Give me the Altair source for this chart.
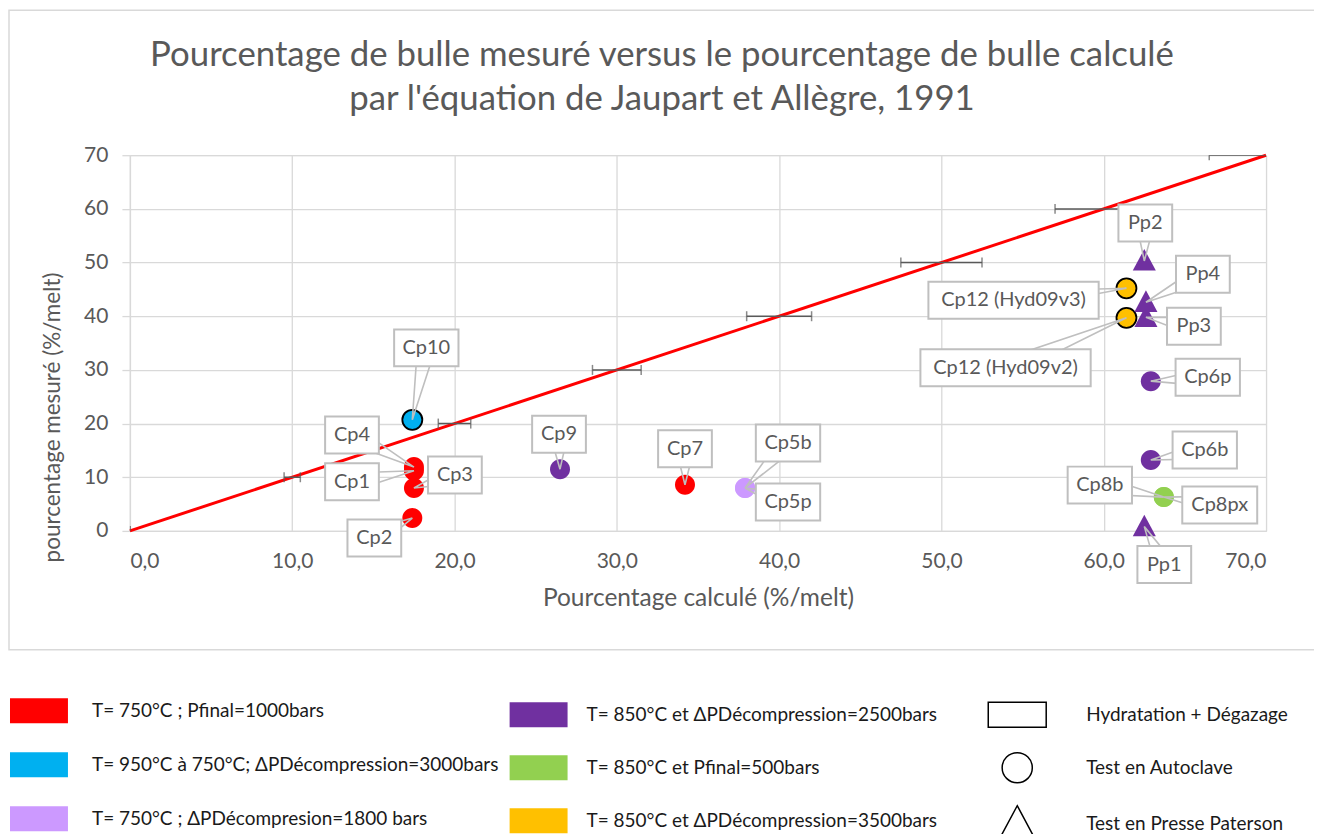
import altair as alt
import numpy as np
import pandas as pd

# ---------------- data ----------------
names = ["Cp1", "Cp2", "Cp3", "Cp4", "Cp5b", "Cp5p", "Cp6b", "Cp6p", "Cp7", "Cp8b",
         "Cp8px", "Cp9", "Cp10", "Cp12 (Hyd09v3)", "Cp12 (Hyd09v2)", "Pp1", "Pp2", "Pp3", "Pp4"]
calc = [17.5, 17.4, 17.5, 17.5, 37.9, 37.9, 62.9, 62.9, 34.2, 63.7,
        63.7, 26.5, 17.4, 61.4, 61.4, 62.5, 62.5, 62.6, 62.6]
meas = [11.2, 2.4, 8.0, 11.9, 8.0, 8.0, 13.2, 27.9, 8.6, 6.3,
        6.3, 11.5, 20.7, 45.2, 39.7, 0.8, 50.3, 39.8, 42.6]

C1 = "T= 750°C ; Pfinal=1000bars"
C2 = "T= 950°C à 750°C; ΔPDécompression=3000bars"
C3 = "T= 750°C ; ΔPDécompresion=1800 bars"
C4 = "T= 850°C et ΔPDécompression=2500bars"
C5 = "T= 850°C et Pfinal=500bars"
C6 = "T= 850°C et ΔPDécompression=3500bars"
cond = [C1, C1, C1, C1, C3, C3, C4, C4, C1, C5,
        C5, C4, C2, C6, C6, C4, C4, C4, C4]

T0 = "Hydratation + Dégazage"
T1 = "Test en Autoclave"
T2 = " Test en Presse Paterson"
test = [T1] * 15 + [T2] * 4

# 1:1 line and error bars (±5 %) along it
line_x = [0, 70]
line_y = [0, 70]
err_center = [0, 10, 20, 30, 40, 50, 60, 70]
err_half = [0, 0.5, 1.0, 1.5, 2.0, 2.5, 3.0, 3.5]

# callout label offsets (pixels, relative to the point)
lab_dx = [-62, -38, 41, -62, 43, 43, 54, 57, 0, -64, 56, -1, 14, -113, -121, 20, 1, 48, 57]
lab_dy = [11, 20, -13, -32, -45, 14, -10, -4, -36, -12, 8, -35, -72, 12, 50, 38, -38, 9, -28]

group_a = [C1, C2, C3]
group_b = [C4, C5, C6]
colors_a = ["#FF0000", "#00B0F0", "#CC99FF"]
colors_b = ["#7030A0", "#92D050", "#FFC000"]

# ---------------- layout ----------------
W, H = 1137, 376
PX, PY = W / 70.0, H / 70.0
FONT = "Lato"
GREY = "#595959"
GRID = "#d9d9d9"

RECT = "M-1,-0.43L1,-0.43L1,0.43L-1,0.43Z"
CIRC = "M0.52,0A0.52,0.52 0 1,1 -0.52,0A0.52,0.52 0 1,1 0.52,0Z"
TRI = "M0,-0.62L0.6,0.5L-0.6,0.5Z"

df = pd.DataFrame({"name": names, "x": calc, "y": meas, "cond": cond, "test": test,
                   "dx": lab_dx, "dy": lab_dy})
df["condA"] = df["cond"]
df["condB"] = df["cond"]
df["lx"] = df["x"] + df["dx"] / PX
df["ly"] = df["y"] - df["dy"] / PY
df["bw"] = df["name"].str.len() * 10.6 + 22
df["bx1"] = df["lx"] - df["bw"] / 2 / PX
df["bx2"] = df["lx"] + df["bw"] / 2 / PX
df["by1"] = df["ly"] - 18.5 / PY
df["by2"] = df["ly"] + 18.5 / PY

# wedge-shaped callout leaders: base on the box centre, tip on the point
rows = []
for _, r in df.iterrows():
    vx, vy = float(-r["dx"]), float(-r["dy"])  # pixel vector centre -> point (screen coords)
    n = np.hypot(vx, vy) or 1.0
    nx, ny = -vy / n * 9, vx / n * 9
    b1 = (r["lx"] + nx / PX, r["ly"] - ny / PY)
    b2 = (r["lx"] - nx / PX, r["ly"] + ny / PY)
    for k, (px, py) in enumerate([b1, (r["x"], r["y"]), b2]):
        rows.append({"name": r["name"], "k": k, "wx": px, "wy": py})
wedge_df = pd.DataFrame(rows)

line_df = pd.DataFrame({"x": line_x, "y": line_y})
err_df = pd.DataFrame({"c": err_center, "h": err_half})
err_df["lo"] = err_df["c"] - err_df["h"]
err_df["hi"] = err_df["c"] + err_df["h"]

xs = alt.Scale(domain=[0, 70], nice=False)
ys = alt.Scale(domain=[0, 70], nice=False)

xaxis = alt.Axis(values=list(range(0, 71, 10)),
                 labelExpr="replace(format(datum.value, '.1f'), '.', ',')",
                 title="Pourcentage calculé (%/melt)", grid=True, gridColor=GRID, gridWidth=1.3,
                 domainColor=GRID, domainWidth=1.3, ticks=False, labelPadding=20,
                 labelFontSize=21, labelColor=GREY, labelFont=FONT,
                 titleFontSize=24.5, titleColor=GREY, titleFont=FONT, titleFontWeight="normal",
                 titlePadding=15)
yaxis = alt.Axis(values=list(range(0, 71, 10)), title="pourcentage mesuré (%/melt)",
                 grid=True, gridColor=GRID, gridWidth=1.3, domainColor=GRID, domainWidth=1.3,
                 ticks=True, tickSize=8, tickColor=GRID, tickWidth=1.3, labelPadding=14,
                 labelFontSize=21, labelColor=GREY, labelFont=FONT,
                 titleFontSize=22.5, titleColor=GREY, titleFont=FONT, titleFontWeight="normal",
                 titlePadding=19, titleY=262)


def X(field):
    return alt.X(field, scale=xs, axis=xaxis)


def Y(field):
    return alt.Y(field, scale=ys, axis=yaxis)


# frame around the chart area
frame = alt.Chart(pd.DataFrame({"a": [0]})).mark_rect(
    fill="transparent", stroke=GRID, strokeWidth=1.5
).encode(x=alt.value(-121), x2=alt.value(1186), y=alt.value(-145), y2=alt.value(495))

one2one = alt.Chart(line_df).mark_line(color="#FF0000", strokeWidth=3).encode(
    x=X("x:Q"), y=Y("y:Q"))

err_rule = alt.Chart(err_df).mark_rule(color=GREY, strokeWidth=1.5, clip=True).encode(
    x=X("lo:Q"), x2="hi:Q", y=Y("c:Q"))
err_cap_lo = alt.Chart(err_df).mark_tick(color=GREY, thickness=1.5, size=10, orient="vertical",
                                         clip=True).encode(x=X("lo:Q"), y=Y("c:Q"))
err_cap_hi = alt.Chart(err_df).mark_tick(color=GREY, thickness=1.5, size=10, orient="vertical",
                                         clip=True).encode(x=X("hi:Q"), y=Y("c:Q"))

shape_enc = alt.Shape("test:N", scale=alt.Scale(domain=[T0, T1, T2], range=[RECT, CIRC, TRI]),
                      legend=alt.Legend(orient="none", legendX=858, legendY=530, title=None,
                                        symbolSize=3364, symbolFillColor="white",
                                        symbolStrokeColor="black", symbolStrokeWidth=1.5,
                                        labelFontSize=19, labelColor="#1a1a1a", labelFont=FONT,
                                        labelOffset=39, labelLimit=500, rowPadding=7))
outline = alt.FieldOneOfPredicate(field="cond", oneOf=[C2, C6])

pts_a = alt.Chart(df).transform_filter(
    alt.FieldOneOfPredicate(field="cond", oneOf=group_a)
).mark_point(filled=True, size=1480, opacity=1).encode(
    x=X("x:Q"), y=Y("y:Q"),
    fill=alt.Fill("condA:N", scale=alt.Scale(domain=group_a, range=colors_a),
                  legend=alt.Legend(orient="none", legendX=-120, legendY=527, title=None,
                                    symbolType=RECT, symbolSize=3364, symbolStrokeWidth=0,
                                    labelFontSize=19, labelColor="#1a1a1a", labelFont=FONT,
                                    labelOffset=24, labelLimit=600, rowPadding=12)),
    shape=shape_enc,
    stroke=alt.condition(outline, alt.value("black"), alt.value("transparent")),
    strokeWidth=alt.value(1.8),
)
pts_b = alt.Chart(df).transform_filter(
    alt.FieldOneOfPredicate(field="cond", oneOf=group_b)
).mark_point(filled=True, size=1480, opacity=1).encode(
    x=X("x:Q"), y=Y("y:Q"),
    color=alt.Color("condB:N", scale=alt.Scale(domain=group_b, range=colors_b),
                    legend=alt.Legend(orient="none", legendX=380, legendY=531, title=None,
                                      symbolType=RECT, symbolSize=3364, symbolStrokeWidth=0,
                                      labelFontSize=19, labelColor="#1a1a1a", labelFont=FONT,
                                      labelOffset=19, labelLimit=600, rowPadding=11)),
    shape=shape_enc,
    stroke=alt.condition(outline, alt.value("black"), alt.value("transparent")),
    strokeWidth=alt.value(1.8),
)

leaders = alt.Chart(wedge_df).mark_line(color="#bfbfbf", strokeWidth=1.6).encode(
    x=X("wx:Q"), y=Y("wy:Q"), detail="name:N", order="k:Q")
boxes = alt.Chart(df).mark_rect(fill="white", stroke="#bfbfbf", strokeWidth=2).encode(
    x=X("bx1:Q"), x2="bx2:Q", y=Y("by1:Q"), y2="by2:Q")
texts = alt.Chart(df).mark_text(font=FONT, fontSize=20, color=GREY).encode(
    x=X("lx:Q"), y=Y("ly:Q"), text="name:N")

chart = alt.layer(
    frame, one2one, err_rule, err_cap_lo, err_cap_hi, pts_a, pts_b, leaders, boxes, texts
).properties(
    width=W, height=H,
    autosize=alt.AutoSizeParams(type="none"),
    padding={"left": 122, "top": 147, "right": 48, "bottom": 303},
    title=alt.TitleParams(
        text=["Pourcentage de bulle mesuré versus le pourcentage de bulle calculé",
              "par l'équation de Jaupart et Allègre, 1991"],
        anchor="middle", dx=-36, dy=108, fontSize=34.8, font=FONT, color=GREY,
        fontWeight="normal", lineHeight=44, offset=0),
).configure_view(stroke=None).configure(background="white")

chart.save("out.html", embed_options={"renderer": "svg", "actions": False})
